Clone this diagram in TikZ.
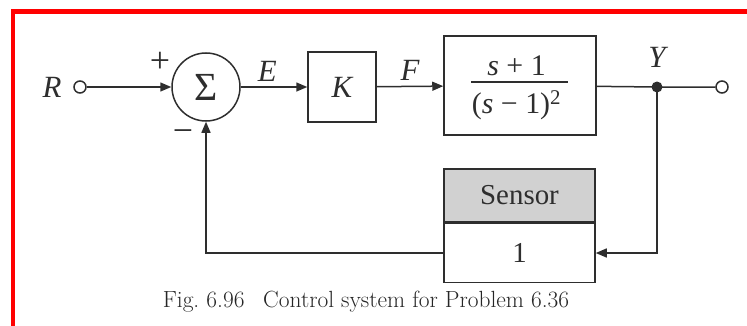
\documentclass[tikz,border=0pt]{standalone}
\usepackage{fontspec}
\newfontfamily\tnr{Liberation Serif}
\usetikzlibrary{arrows.meta, positioning, calc}

\begin{document}
\begin{tikzpicture}[
    x=1bp, y=1bp,
    >={Triangle[length=11bp,width=9bp]},
    line width=1.5bp,
    color=black!82,
    blk/.style={
        draw,
        minimum width=68bp,
        minimum height=70bp,
        inner sep=0pt,
        font=\tnr\fontsize{31}{34}\selectfont\itshape
    },
    sens/.style={
        draw,
        minimum width=151bp,
        inner sep=0pt,
        font=\tnr\fontsize{29}{32}\selectfont
    },
    term/.style={
        circle,
        draw,
        fill=white,
        minimum size=12bp,
        inner sep=0pt
    },
    sig/.style={
        font=\tnr\fontsize{31}{34}\selectfont\itshape,
        inner sep=1pt
    },
    sgn/.style={
        font=\tnr\fontsize{36}{38}\selectfont,
        inner sep=0pt
    },
    frac/.style={
        font=\tnr\fontsize{30}{32}\selectfont,
        inner sep=0pt,
        anchor=base
    }
]
\useasboundingbox (0,0) rectangle (747,325);
\clip (0,0) rectangle (747,325);

% =========================================================
% Frame
% =========================================================
\draw[red, line width=4.5bp] (13,-20) |- (770,313.5);

% =========================================================
% Forward path
% =========================================================
\node[term] (in)  at (80,238) {};
\node[sig]  (rl)  at (52,238) {R};

\node[circle, draw, minimum size=68bp, inner sep=0pt,
      font=\tnr\fontsize{40}{42}\selectfont] (sum) at (206,238) {Σ};
\node[sgn] (plus)  at (160,263) {+};
\node[sgn] (minus) at (183,189) {−};

\node[blk] (K) at (342,238) {K};

\node[draw, minimum width=152bp, minimum height=99bp] (G) at (520,239.5) {};
\node[frac] (Gnum) at ($(G.center)+(-3.5,10.5)$) {\textit{s} + 1};
\node[frac] (Gden) at ($(G.center)+(-3.5,-27.5)$)
    {(\textit{s} − 1)\textsuperscript{2}};
\draw[line width=1.4bp] ($(G.center)+(-49,3.5)$) -- ($(G.center)+(48,3.5)$);

\fill (657,238) circle (5.5bp) coordinate (dot);
\node[sig] (yl) at (657,268) {Y};
\node[term] (out) at (722,238) {};

% forward arrows
\draw[->] (in) -- (sum);
\draw[->] (sum) -- node[sig, pos=0.4, above=4pt] {E} (K);
\draw[->] (K) -- node[sig, above=4pt] {F} (G);
\draw (G) -- (dot) -- (out);

% =========================================================
% Feedback path
% =========================================================
\node[sens, minimum height=53bp, fill=black!18] (sh) at (519.5,129.5) {Sensor};
\node[sens, minimum height=59bp, below=0pt of sh] (sb) {1};

\draw[->] (dot) |- (sb.east);
\draw[->] (sb.west) -| (sum.south);

% =========================================================
% Caption
% =========================================================
\node[font=\fontsize{23.5}{26}\selectfont, color=black!85] (cap) at (366,23)
    {Fig.~6.96\hspace{0.8em}Control system for Problem 6.36};

\end{tikzpicture}
\end{document}
